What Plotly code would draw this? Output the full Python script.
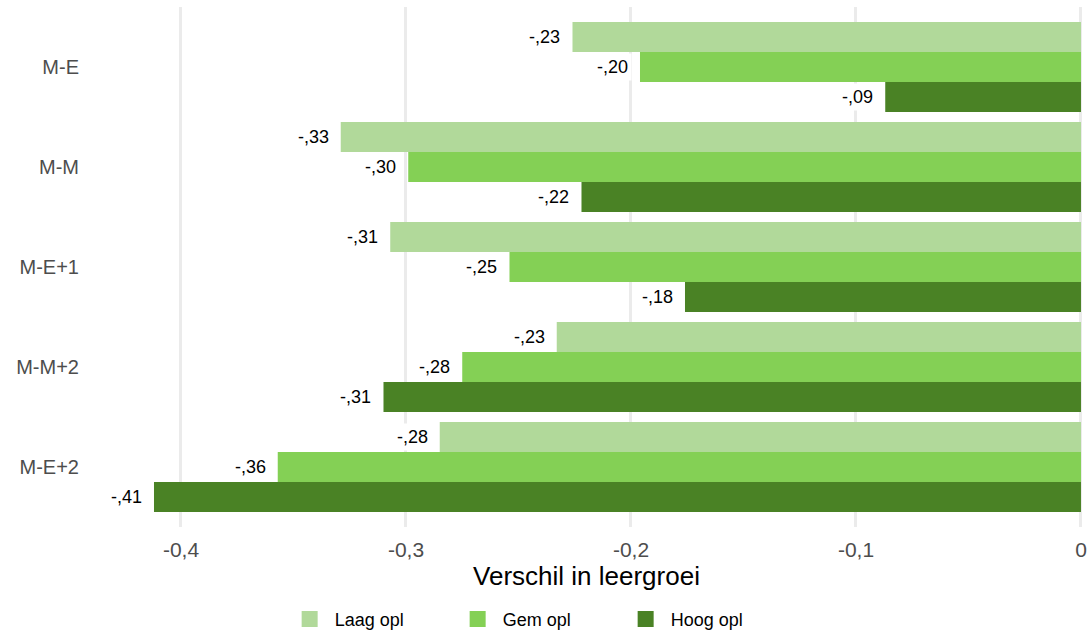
import plotly.graph_objects as go

categories = ["M-E", "M-M", "M-E+1", "M-M+2", "M-E+2"]
series_names = ["Laag opl", "Gem opl", "Hoog opl"]
laag = [-0.226, -0.329, -0.307, -0.233, -0.285]
gem = [-0.196, -0.299, -0.254, -0.275, -0.357]
hoog = [-0.087, -0.222, -0.176, -0.310, -0.412]
colors = ["#b1d99a", "#84d055", "#4a8225"]
x_ticks = [-0.4, -0.3, -0.2, -0.1, 0]
x_tick_labels = ["-0,4", "-0,3", "-0,2", "-0,1", "0"]

FONT = "Liberation Sans, Arial, sans-serif"


def fmt(v):
    s = f"{abs(v):.2f}".lstrip("0").replace(".", ",")
    return ("-" if v < 0 else "") + s


fig = go.Figure()
all_series = [laag, gem, hoog]
for name, vals, col in zip(series_names, all_series, colors):
    fig.add_trace(go.Bar(
        y=categories, x=vals, orientation="h", name=name,
        marker=dict(color=col, line=dict(width=0)),
        showlegend=False, hoverinfo="x+y",
    ))
    fig.add_trace(go.Scatter(
        x=[None], y=[None], mode="markers", name=name,
        marker=dict(symbol="square", size=22, color=col),
        showlegend=True,
    ))

annotations = []
for k, vals in enumerate(all_series):
    for i, v in enumerate(vals):
        annotations.append(dict(
            x=v, y=i + (k - 1) * 0.3, xref="x", yref="y",
            text=fmt(v), showarrow=False, xanchor="right", yanchor="middle",
            xshift=-8, bgcolor="white", borderpad=3,
            font=dict(family=FONT, size=18, color="black"),
        ))

fig.update_layout(
    width=1091, height=631,
    margin=dict(l=88, r=6, t=7, b=104, autoexpand=False),
    plot_bgcolor="white", paper_bgcolor="white",
    barmode="group", bargap=0.1, bargroupgap=0,
    separators=", ",
    font=dict(family=FONT),
    annotations=annotations,
    xaxis=dict(
        range=[-0.44133, 0.00178],
        tickvals=x_ticks, ticktext=x_tick_labels,
        showgrid=True, gridcolor="#ebebeb", gridwidth=2.5,
        zeroline=False, showline=False, ticks="", automargin=False,
        tickfont=dict(family=FONT, size=21, color="#4d4d4d"),
        ticklabelstandoff=8,
        title=dict(text="Verschil in leergroei", standoff=4,
                   font=dict(family=FONT, size=26, color="black")),
    ),
    yaxis=dict(
        type="category", categoryorder="array", categoryarray=categories,
        range=[4.6, -0.6], showgrid=False, zeroline=False, ticks="",
        automargin=False,
        tickfont=dict(family=FONT, size=20, color="#4d4d4d"),
        ticklabelstandoff=8,
    ),
    legend=dict(
        orientation="h", x=0.450, xanchor="center", y=-0.142, yanchor="top",
        font=dict(family=FONT, size=18, color="black"),
        entrywidth=113, itemwidth=40,
    ),
)

fig.write_html(
    "out.html",
    config={"displayModeBar": False},
    post_script="document.body.style.margin='0';document.body.style.overflow='hidden';",
)
